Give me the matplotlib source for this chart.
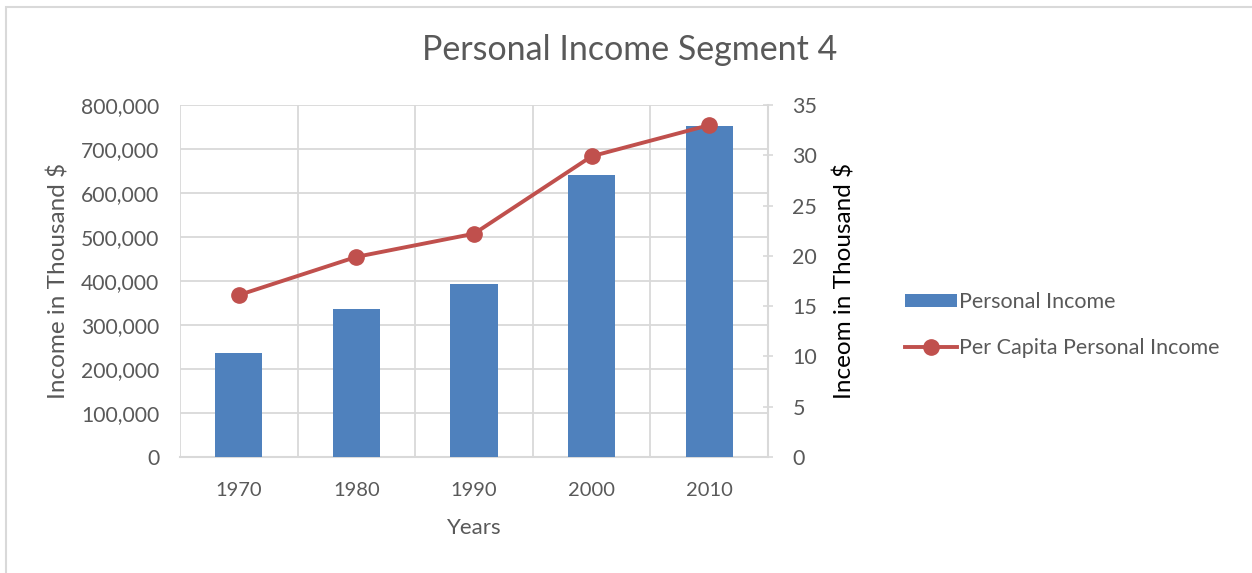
import matplotlib.pyplot as plt
import numpy as np
from matplotlib.patches import Rectangle

# data
years = ['1970', '1980', '1990', '2000', '2010']
personal_income = [237000, 336000, 394000, 640000, 752000]
per_capita_income = [16.1, 19.9, 22.2, 29.9, 33.0]

plt.rcParams['font.family'] = ['Lato', 'DejaVu Sans']
txt = '#595959'
grid = '#d9d9d9'
bar_col = '#4f81bd'
line_col = '#c0504d'

fig = plt.figure(figsize=(12.52, 5.73), dpi=100)
# outer chart frame
fig.patches.append(Rectangle((6 / 1252, -0.01), 1.0, 1 - 7 / 573 + 0.01, transform=fig.transFigure,
                             fill=False, edgecolor=grid, linewidth=1.5))

ax = fig.add_axes([180 / 1252, 1 - 457 / 573, 588 / 1252, 352 / 573])
x = np.arange(len(years))
ax.bar(x, personal_income, width=0.4, color=bar_col, label='Personal Income', zorder=3)
ax.set_xlim(-0.5, 4.5)
ax.set_ylim(0, 800000)
ax.set_yticks(np.arange(0, 800001, 100000))
ax.set_yticklabels([f'{v:,}' for v in range(0, 800001, 100000)])
ax.set_xticks(x)
ax.set_xticklabels(years)
ax.set_xticks(np.arange(-0.5, 5, 1), minor=True)
ax.grid(True, axis='y', color=grid, linewidth=1.3, zorder=0)
ax.grid(True, axis='x', which='minor', color=grid, linewidth=1.3, zorder=0)
ax.tick_params(axis='both', which='both', length=0, colors=txt)
ax.tick_params(axis='x', labelsize=14.5, pad=18)
ax.tick_params(axis='y', labelsize=15.2, pad=15)
for s in ['top', 'right', 'left']:
    ax.spines[s].set_visible(False)
ax.spines['bottom'].set_color(grid)
ax.spines['bottom'].set_linewidth(1.5)
ax.set_xlabel('Years', fontsize=16, color=txt, labelpad=14)
ax.set_ylabel('Income in Thousand $', fontsize=17.5, color=txt, labelpad=8)

ax2 = ax.twinx()
ax2.plot(x, per_capita_income, color=line_col, linewidth=2.8, marker='o', markersize=11,
         label='Per Capita Personal Income', zorder=4)
ax2.set_ylim(0, 35)
ax2.set_yticks(np.arange(0, 36, 5))
ax2.tick_params(axis='y', direction='inout', length=7, width=1.2, color=grid, labelsize=15.5,
                labelcolor=txt, pad=14)
for s in ['top', 'left', 'bottom']:
    ax2.spines[s].set_visible(False)
ax2.spines['right'].set_color(grid)
ax2.spines['right'].set_linewidth(1.5)
ax2.set_ylabel('Inceom in Thousand $', fontsize=17.5, color='black', labelpad=12)

fig.text(630 / 1252, 1 - 50 / 573, 'Personal Income Segment 4', fontsize=24.5, color=txt,
         ha='center', va='center')

h1, l1 = ax.get_legend_handles_labels()
h2, l2 = ax2.get_legend_handles_labels()
fig.legend(h1 + h2, l1 + l2, loc='center left', bbox_to_anchor=(886 / 1252, 1 - 325 / 573),
           frameon=False, fontsize=15.5, labelcolor=txt, handlelength=2.4, handleheight=0.6,
           handletextpad=0.1, labelspacing=1.2)

fig.savefig('out.png', dpi=100)
